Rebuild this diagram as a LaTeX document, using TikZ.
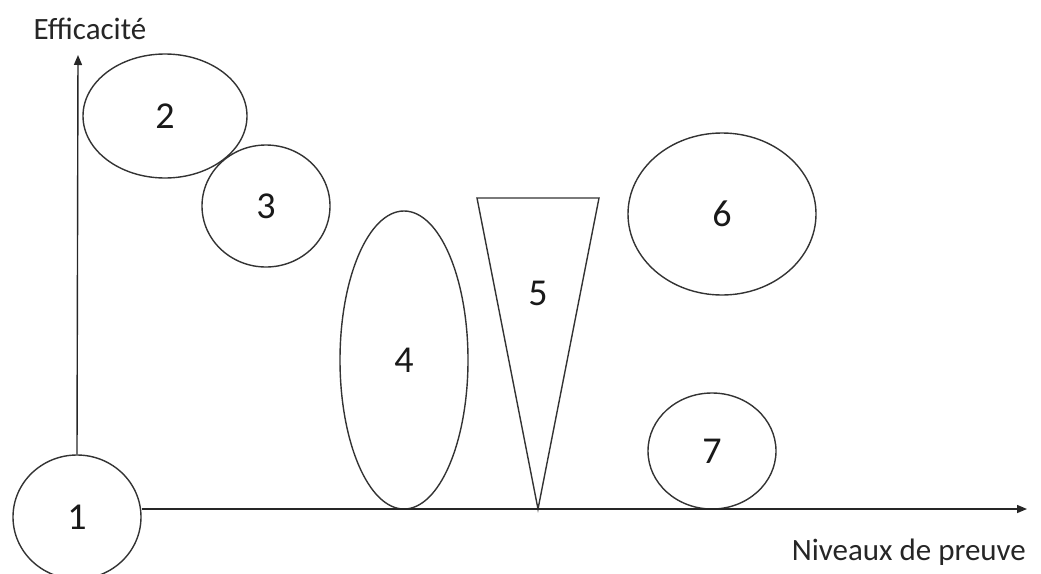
\documentclass[tikz,border=0pt]{standalone}
\usepackage{fontspec}
\setmainfont{Carlito}
\usetikzlibrary{shapes.geometric,arrows.meta}
\begin{document}
\begin{tikzpicture}[x=1pt,y=-1pt,
  shp/.style={draw=black!80,line width=1.4pt,ellipse,inner sep=0pt,
    font=\fontsize{38}{42}\selectfont,text=black!90},
  axis/.style={draw=black!85,line width=1.4pt,-{Triangle[length=10pt,width=8pt]}},
  lbl/.style={font=\fontsize{31}{34}\selectfont,text=black!85,inner sep=0pt}]
\useasboundingbox (0,0) rectangle (1041,573);
\node[shp,minimum width=128pt,minimum height=124pt] (n1) at (77,517) {1};
\node[shp,minimum width=164pt,minimum height=124pt] (n2) at (165,116) {2};
\node[shp,minimum width=128pt,minimum height=122pt] (n3) at (266,206) {3};
\node[shp,minimum width=128pt,minimum height=298pt] (n4) at (404,360) {4};
\node[shp,minimum width=188pt,minimum height=162pt] (n6) at (722,214) {6};
\node[shp,minimum width=128pt,minimum height=116pt] (n7) at (712,451) {7};
\coordinate (t1) at (477,198);
\coordinate (t2) at (599,198);
\coordinate (t3) at (538,509);
\draw[draw=black!80,line width=1.4pt,line join=miter] (t1) -- (t2) -- (t3) -- cycle;
\node[font=\fontsize{38}{42}\selectfont,text=black!90] (n5) at (538,293) {5};
\coordinate (yend) at (78,55);
\coordinate (xend) at (1027,509);
\draw[axis] (n1.north) -- (yend);
\draw[axis] (n1.east |- xend) -- (xend);
\node[lbl] (ly) at (90,29) {Efficacité};
\node[lbl,anchor=east] (lx) at (1026,552) {Niveaux de preuve};
\end{tikzpicture}
\end{document}
